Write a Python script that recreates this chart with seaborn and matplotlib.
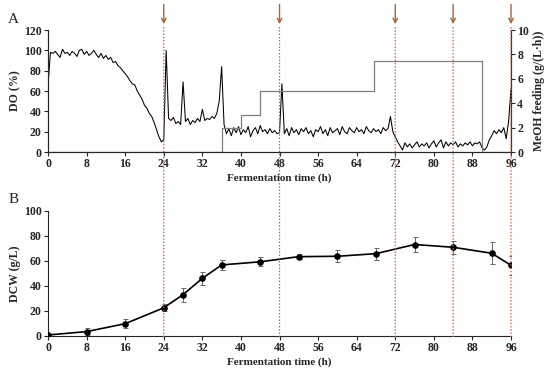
import numpy as np
import pandas as pd
import matplotlib
matplotlib.use("Agg")
import matplotlib.pyplot as plt
from matplotlib.lines import Line2D
import seaborn as sns

# DO trace, one reading every 0.5 h from 0 to 96 h
do_values = [
    66, 98, 97, 99, 96, 93, 101, 97,
    98, 95, 99, 97, 94, 100, 101, 96,
    99, 95, 97, 100, 96, 93, 97, 92,
    95, 91, 93, 88, 89, 85, 83, 80,
    77, 74, 70, 67, 66, 60, 56, 52,
    46, 43, 38, 35, 29, 22, 15, 10,
    12, 100, 33, 31, 34, 28, 30, 27,
    69, 30, 33, 27, 31, 29, 33, 30,
    42, 31, 33, 32, 35, 33, 38, 50,
    84, 27, 18, 23, 16, 24, 19, 25,
    17, 22, 19, 25, 15, 21, 24, 18,
    26, 20, 22, 18, 23, 19, 21, 18,
    19, 67, 18, 23, 16, 24, 19, 22,
    17, 23, 20, 24, 18, 21, 15, 22,
    20, 25, 18, 22, 16, 24, 19, 21,
    23, 17, 25, 20, 18, 24, 21, 19,
    24, 20, 22, 18, 25, 21, 19, 23,
    20, 22, 18, 24, 21, 23, 35, 20,
    15, 10, 6, 2, 9, 5, 8, 4,
    7, 10, 5, 8, 6, 9, 4, 8,
    11, 5, 9, 12, 4, 10, 6, 9,
    7, 10, 5, 8, 6, 9, 7, 10,
    6, 9, 8, 10, 4, 2, 5, 12,
    16, 21, 18, 22, 19, 24, 13, 30,
    62,
]
do_time = np.arange(len(do_values)) * 0.5

# methanol feeding steps (g/(L*h))
feed_time = [0, 36, 40, 44, 67.5, 90, 96]
feed_rate = [0, 2.0, 3.0, 5.0, 7.5, 0, 0]

# dry cell weight samples
dcw_time = [0, 8, 16, 24, 28, 32, 36, 44, 52, 60, 68, 76, 84, 92, 96]
dcw_mean = [0.8, 3.5, 9.8, 22.5, 33, 46, 56.7, 59.2, 63.3, 63.6, 65.7, 73, 70.8, 66, 56.4]
dcw_err = [1, 2.7, 3.6, 2.9, 5.5, 5, 4.3, 3.5, 2.1, 4.9, 4.9, 5.6, 5.3, 8.9, 7.6]

# induction / sampling marks
mark_times = [24, 48, 72, 84, 96]

sns.set_style("ticks")
plt.rcParams["font.family"] = ["Liberation Serif", "DejaVu Serif"]
plt.rcParams["font.weight"] = "bold"

fig = plt.figure(figsize=(5.5, 3.77), dpi=100)
ax1 = fig.add_axes([0.0873, 0.5968, 0.8418, 0.3236])
ax2 = ax1.twinx()
ax3 = fig.add_axes([0.0873, 0.1088, 0.8418, 0.3324])

do_df = pd.DataFrame({"t": do_time, "do": do_values})
sns.lineplot(data=do_df, x="t", y="do", ax=ax1, color="black", lw=0.75)
ax2.plot(feed_time, feed_rate, drawstyle="steps-post", color="#7f7f7f", lw=0.9)

ax1.set_xlim(0, 96)
ax1.set_ylim(0, 120)
ax2.set_ylim(0, 10)
ax1.set_xticks(range(0, 97, 8))
ax1.set_yticks(range(0, 121, 20))
ax2.set_yticks(range(0, 11, 2))
ax1.set_xlabel("Fermentation time (h)", fontsize=8, fontweight="bold", labelpad=2)
ax1.set_ylabel("DO (%)", fontsize=8.5, fontweight="bold", labelpad=2)
ax2.set_ylabel("MeOH feeding (g/(L·h))", fontsize=8.5, fontweight="bold", labelpad=3)
for a in (ax1, ax2):
    a.spines["top"].set_visible(False)
    a.tick_params(labelsize=8.5, length=3, width=0.8, pad=1.5)
ax2.spines["right"].set_linewidth(0.8)
ax1.spines["left"].set_linewidth(0.8)
ax1.spines["bottom"].set_linewidth(0.8)

dcw_df = pd.DataFrame({"t": dcw_time, "dcw": dcw_mean})
ax3.errorbar(dcw_time, dcw_mean, yerr=dcw_err, fmt="none", ecolor="#666666",
             elinewidth=0.7, capsize=1.8, capthick=0.7, zorder=2)
sns.lineplot(data=dcw_df, x="t", y="dcw", ax=ax3, color="black", lw=1.2,
             marker="o", markersize=4, markeredgecolor="black", zorder=3)
ax3.set_xlim(0, 96)
ax3.set_ylim(0, 100)
ax3.set_xticks(range(0, 97, 8))
ax3.set_yticks(range(0, 101, 20))
ax3.set_xlabel("Fermentation time (h)", fontsize=8, fontweight="bold", labelpad=2)
ax3.set_ylabel("DCW (g/L)", fontsize=8.5, fontweight="bold", labelpad=2)
sns.despine(ax=ax3)
ax3.tick_params(labelsize=8.5, length=3, width=0.8, pad=1.5)
for s in ("left", "bottom"):
    ax3.spines[s].set_linewidth(0.8)

# dotted guide lines through both panels, with arrows on top
fig.canvas.draw()
for t in mark_times:
    x_px = ax1.transData.transform((t, 0))[0]
    xf = x_px / fig.bbox.width
    fig.add_artist(Line2D([xf, xf], [1 - 27 / 377, 1 - 338 / 377],
                          transform=fig.transFigure, color="#d0603c",
                          lw=0.9, ls=(0, (1.2, 1.4)), zorder=5, snap=False))
    ax1.annotate("", xy=(t, 123), xytext=(t, 148), xycoords="data",
                 annotation_clip=False,
                 arrowprops=dict(arrowstyle="->", color="#a8643a", lw=1.0,
                                 mutation_scale=8))

fig.text(0.015, 0.94, "A", fontsize=11, fontweight="normal")
fig.text(0.015, 0.462, "B", fontsize=11, fontweight="normal")

fig.savefig("out.png", dpi=100)
